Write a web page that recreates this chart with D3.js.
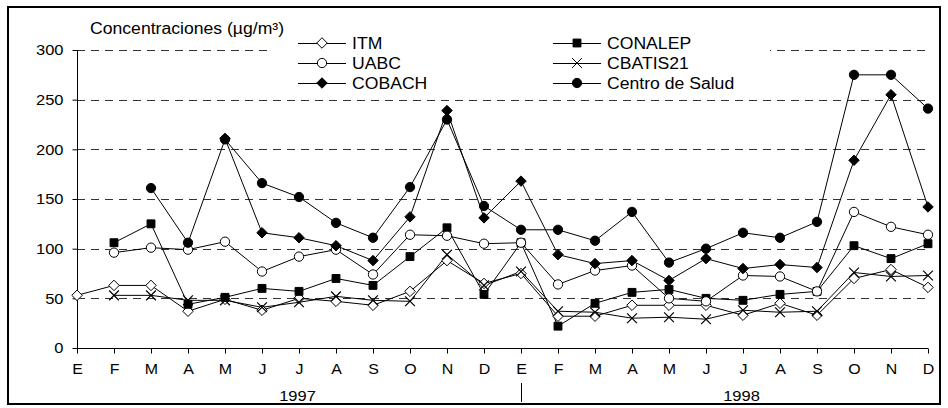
<!DOCTYPE html>
<html>
<head>
<meta charset="utf-8">
<script src="https://cdn.jsdelivr.net/npm/d3@7"></script>
<style>
  body { margin: 0; background: #fff; }
  text { font-family: "Liberation Sans", Arial, sans-serif; fill: #000; }
</style>
</head>
<body>
<div class="chart-box"></div>
<script>
var months = ['E','F','M','A','M','J','J','A','S','O','N','D',
              'E','F','M','A','M','J','J','A','S','O','N','D'];
var years = ['1997', '1998'];
var y_ticks = [0, 50, 100, 150, 200, 250, 300];

// one value per month, null = no sample
var itm     = [53, 63, 63, 37, 49, 38, 50, 47, 43, 57, 88, 65, 75, 32, 32, 43, 43, 43, 33, 45, 33, 70, 79, 61];
var conalep = [null, 106, 125, 44, 51, 60, 57, 70, 63, 92, 121, 54, 106, 22, 45, 56, 59, 50, 48, 54, 57, 103, 90, 105];
var uabc    = [null, 96, 101, 99, 107, 77, 92, 99, 74, 114, 113, 105, 106, 64, 78, 83, 50, 47, 73, 72, 57, 137, 122, 114];
var cbatis  = [null, 53, 53, 48, 48, 41, 46, 52, 48, 47, 94, 63, 77, 37, 36, 30, 31, 29, 38, 36, 37, 76, 72, 73];
var cobach  = [null, null, null, null, 211, 116, 111, 103, 88, 132, 239, 131, 168, 94, 85, 88, 68, 90, 80, 84, 81, 189, 255, 142];
var centro  = [null, null, 161, 106, 210, 166, 152, 126, 111, 162, 230, 143, 119, 119, 108, 137, 86, 100, 116, 111, 127, 275, 275, 241];

var series = [
  {name: 'ITM', values: itm, mark: 'diamond', fill: '#fff'},
  {name: 'CONALEP', values: conalep, mark: 'square', fill: '#000'},
  {name: 'UABC', values: uabc, mark: 'circle', fill: '#fff'},
  {name: 'CBATIS21', values: cbatis, mark: 'times', fill: 'none'},
  {name: 'COBACH', values: cobach, mark: 'diamond', fill: '#000'},
  {name: 'Centro de Salud', values: centro, mark: 'circle', fill: '#000'}
];

// the original chart's lettering is a little wider than plain Arial
var TEXT_STRETCH = 1.1;

var width = 948,
    height = 408;

var svg = d3.select('.chart-box').append('svg')
    .attr('width', width)
    .attr('height', height);

var x = d3.scalePoint()
    .domain(d3.range(months.length))
    .range([77, 928]);

var y = d3.scaleLinear()
    .domain([0, 300])
    .range([348, 50]);

var sym_types = {
  diamond: d3.symbolDiamond2 || d3.symbolDiamond,
  square: d3.symbolSquare,
  circle: d3.symbolCircle,
  times: d3.symbolTimes || d3.symbolX
};
var sym_sizes = {diamond: 70, square: 62, circle: 68, times: 64};

function marker_path(mark) {
  return d3.symbol().type(sym_types[mark]).size(sym_sizes[mark])();
}

function stretch_text(sel) {
  sel.each(function() {
    var w = this.getComputedTextLength();
    d3.select(this)
      .attr('textLength', w * TEXT_STRETCH)
      .attr('lengthAdjust', 'spacingAndGlyphs');
  });
}

// outer frame
svg.append('rect')
  .attr('x', 8).attr('y', 7)
  .attr('width', 932).attr('height', 397)
  .attr('fill', 'none')
  .attr('stroke', '#000')
  .attr('stroke-width', 2);

// dashed gridlines
svg.append('g')
  .selectAll('line')
  .data(y_ticks.filter(function(d) { return d > 0; }))
  .enter().append('line')
  .attr('x1', x(0)).attr('x2', x(months.length - 1))
  .attr('y1', function(d) { return Math.round(y(d)) + 0.5; })
  .attr('y2', function(d) { return Math.round(y(d)) + 0.5; })
  .attr('stroke', '#333')
  .attr('stroke-dasharray', '8,6');

// y axis
var y_axis = svg.append('g')
  .attr('transform', 'translate(' + (x(0) + 0.5) + ',0)')
  .call(d3.axisLeft(y).tickValues(y_ticks).tickSize(5).tickPadding(9));
y_axis.select('.domain').attr('d', 'M0,' + y(300) + 'V' + y(0));
y_axis.selectAll('text')
  .style('font-size', '15px')
  .style('font-family', '"Liberation Sans", Arial, sans-serif')
  .call(stretch_text);

// x axis
var x_axis = svg.append('g')
  .attr('transform', 'translate(0,' + (Math.round(y(0)) + 0.5) + ')')
  .call(d3.axisBottom(x).tickSize(5).tickPadding(10).tickFormat(function(i) { return months[i]; }));
x_axis.select('.domain').attr('d', 'M' + x(0) + ',0H' + x(months.length - 1));
x_axis.selectAll('text')
  .style('font-size', '14.5px')
  .style('font-family', '"Liberation Sans", Arial, sans-serif')
  .call(stretch_text);

// year labels and separator
svg.selectAll('.year-label')
  .data(years)
  .enter().append('text')
  .attr('class', 'year-label')
  .attr('x', function(d, i) { return (x(i * 12 + 5) + x(i * 12 + 6)) / 2 + 17; })
  .attr('y', 401)
  .attr('text-anchor', 'middle')
  .style('font-size', '15px')
  .text(function(d) { return d; })
  .call(stretch_text);

svg.append('line')
  .attr('x1', Math.round(x(12)) + 0.5).attr('x2', Math.round(x(12)) + 0.5)
  .attr('y1', 383).attr('y2', 402)
  .attr('stroke', '#000');

// legend background hides the gridline behind it
svg.append('rect')
  .attr('x', 270).attr('y', 30)
  .attr('width', 500).attr('height', 62)
  .attr('fill', '#fff');

// series lines
var line = d3.line()
  .defined(function(d) { return d !== null; })
  .x(function(d, i) { return x(i); })
  .y(function(d) { return y(d); });

series.forEach(function(s) {
  svg.append('path')
    .attr('d', line(s.values))
    .attr('fill', 'none')
    .attr('stroke', '#000')
    .attr('stroke-width', 1);
});

series.forEach(function(s) {
  svg.append('g')
    .selectAll('path')
    .data(s.values.map(function(v, i) { return {v: v, i: i}; }).filter(function(d) { return d.v !== null; }))
    .enter().append('path')
    .attr('transform', function(d) { return 'translate(' + x(d.i) + ',' + y(d.v) + ')'; })
    .attr('d', marker_path(s.mark))
    .attr('fill', s.fill)
    .attr('stroke', '#000')
    .attr('stroke-width', s.mark === 'times' ? 1.2 : 1);
});

// legend
var legend = svg.append('g').attr('class', 'legend');
series.forEach(function(s, i) {
  var col = i % 2, row = Math.floor(i / 2);
  var lx = col === 0 ? 298 : 553,
      ly = 43 + row * 20;
  legend.append('line')
    .attr('x1', lx).attr('x2', lx + 48)
    .attr('y1', ly + 0.5).attr('y2', ly + 0.5)
    .attr('stroke', '#000');
  legend.append('path')
    .attr('transform', 'translate(' + (lx + 24) + ',' + ly + ')')
    .attr('d', marker_path(s.mark))
    .attr('fill', s.fill)
    .attr('stroke', '#000');
  legend.append('text')
    .attr('x', lx + 54)
    .attr('y', ly + 6)
    .style('font-size', '16px')
    .text(s.name)
    .call(stretch_text);
});

// axis title
svg.append('text')
  .attr('x', 90)
  .attr('y', 34)
  .style('font-size', '16px')
  .text('Concentraciones (µg/m³)')
  .call(stretch_text);
</script>
</body>
</html>
